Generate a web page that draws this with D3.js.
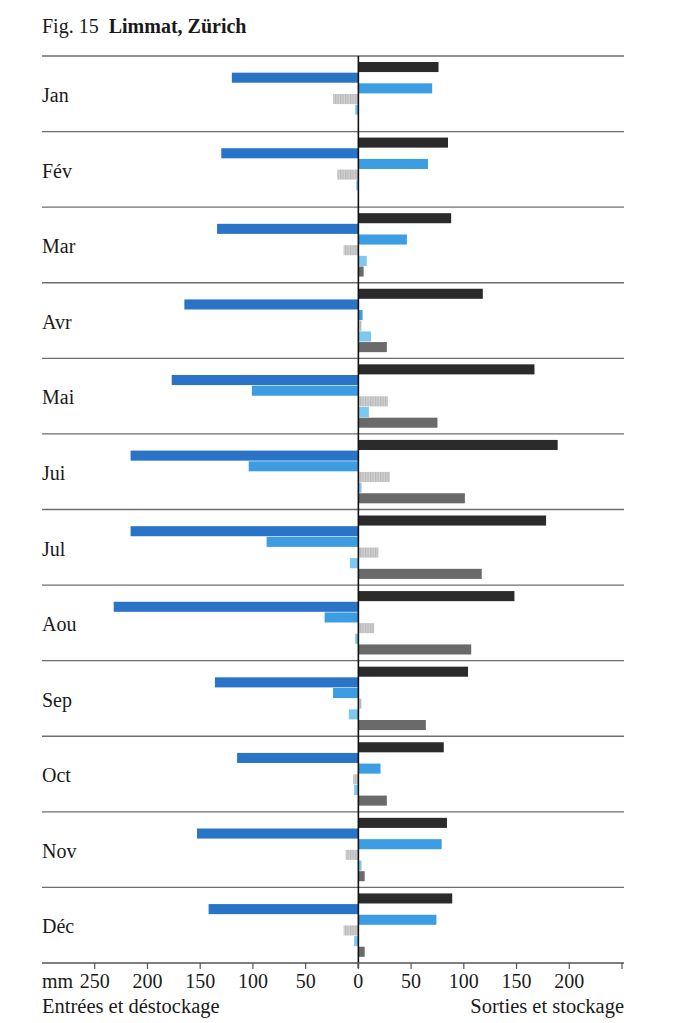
<!DOCTYPE html>
<html>
<head>
<meta charset="UTF-8">
<title>Limmat, Zürich</title>
<script src="https://d3js.org/d3.v7.min.js"></script>
<style>
  html, body { margin: 0; padding: 0; background: #fff; }
  svg text { font-family: "Liberation Serif", "DejaVu Serif", serif; fill: #1a1a1a; }
</style>
</head>
<body>
<div id="chart"></div>
<script>
const months = ['Jan', 'Fév', 'Mar', 'Avr', 'Mai', 'Jui', 'Jul', 'Aou', 'Sep', 'Oct', 'Nov', 'Déc'];

// values in mm, negative = entrées / déstockage, positive = sorties / stockage
const runoff     = [76, 85, 88, 118, 167, 189, 178, 148, 104, 81, 84, 89];
const precip     = [-120, -130, -134, -165, -177, -216, -216, -232, -136, -115, -153, -142];
const snow       = [70, 66, 46, 4, -101, -104, -87, -32, -24, 21, 79, 74];
const soil       = [-24, -20, -14, 3, 28, 30, 19, 15, 3, -5, -12, -14];
const glacier    = [-3, -2, 8, 12, 10, 3, -8, -3, -9, -4, 3, -4];
const evap       = [0, 0, 5, 27, 75, 101, 117, 107, 64, 27, 6, 6];

const seriesKeys = ['runoff', 'precip', 'snow', 'soil', 'glacier', 'evap'];
const seriesVals = [runoff, precip, snow, soil, glacier, evap];
const seriesFill = ['#2b2b2b', '#2a74c8', '#3d9de2', 'url(#hatch)', '#7cc8f0', '#6a6a6a'];

const tickVals = [-250, -200, -150, -100, -50, 0, 50, 100, 150, 200, 250];

const W = 678, H = 1023;
const svg = d3.select('#chart').append('svg')
  .attr('width', W)
  .attr('height', H);

const defs = svg.append('defs');
const pat = defs.append('pattern')
  .attr('id', 'hatch')
  .attr('patternUnits', 'userSpaceOnUse')
  .attr('width', 2.5)
  .attr('height', 4);
pat.append('rect').attr('width', 2.5).attr('height', 4).attr('fill', '#d2d2d2');
pat.append('rect').attr('width', 1.2).attr('height', 4).attr('fill', '#b9b9b9');

const x = d3.scaleLinear().domain([-300, 250]).range([42, 622]);
const y = d3.scaleBand().domain(months).range([56, 963]);
const ySub = d3.scaleBand().domain(seriesKeys).range([6, 70]);

// title
const title = svg.append('text')
  .attr('x', 42)
  .attr('y', 33)
  .attr('font-size', 20);
title.append('tspan').text('Fig. 15');
title.append('tspan').attr('dx', 10).attr('font-weight', 'bold').text('Limmat, Zürich');

// separator lines
svg.append('g').selectAll('line')
  .data(months)
  .enter()
  .append('line')
  .attr('x1', 42)
  .attr('x2', 624)
  .attr('y1', d => y(d))
  .attr('y2', d => y(d))
  .attr('stroke', '#6e6e6e')
  .attr('stroke-width', 1.3);

// month labels
svg.append('g').selectAll('text')
  .data(months)
  .enter()
  .append('text')
  .attr('x', 42)
  .attr('y', d => y(d) + 46)
  .attr('font-size', 20)
  .text(d => d);

// bars
const bars = svg.append('g');
seriesKeys.forEach((key, s) => {
  bars.selectAll('.bar-' + key)
    .data(seriesVals[s].map((v, i) => ({ month: months[i], value: v })))
    .enter()
    .append('rect')
    .attr('class', 'bar-' + key)
    .attr('x', d => x(Math.min(0, d.value)))
    .attr('width', d => Math.abs(x(d.value) - x(0)))
    .attr('y', d => y(d.month) + ySub(key))
    .attr('height', ySub.bandwidth() - 0.6)
    .attr('fill', seriesFill[s]);
});

// zero line
svg.append('line')
  .attr('x1', x(0))
  .attr('x2', x(0))
  .attr('y1', 56)
  .attr('y2', 968)
  .attr('stroke', '#111')
  .attr('stroke-width', 1.6);

// bottom axis
const axis = svg.append('g').attr('transform', 'translate(0, 963)');
axis.append('line')
  .attr('x1', 42)
  .attr('x2', 624)
  .attr('stroke', '#555')
  .attr('stroke-width', 1.3);
axis.selectAll('.tick')
  .data(tickVals)
  .enter()
  .append('line')
  .attr('x1', d => x(d))
  .attr('x2', d => x(d))
  .attr('y1', 0)
  .attr('y2', 6)
  .attr('stroke', '#555')
  .attr('stroke-width', 1.2);
axis.selectAll('.lbl')
  .data(tickVals.filter(d => d !== 250))
  .enter()
  .append('text')
  .attr('x', d => x(d))
  .attr('y', 25)
  .attr('text-anchor', 'middle')
  .attr('font-size', 20)
  .text(d => Math.abs(d));
axis.append('text')
  .attr('x', 42)
  .attr('y', 25)
  .attr('font-size', 20)
  .text('mm');

svg.append('text')
  .attr('x', 42)
  .attr('y', 1013)
  .attr('font-size', 20.5)
  .text('Entrées et déstockage');
svg.append('text')
  .attr('x', 624)
  .attr('y', 1013)
  .attr('text-anchor', 'end')
  .attr('font-size', 20.5)
  .text('Sorties et stockage');
</script>
</body>
</html>
